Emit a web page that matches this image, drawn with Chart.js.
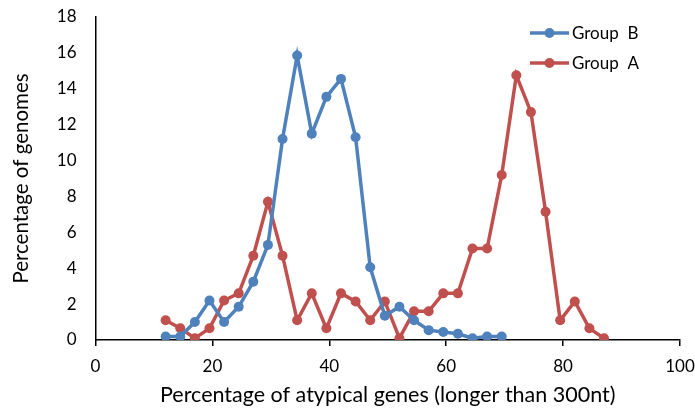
<!DOCTYPE html>
<html>
<head>
<meta charset="utf-8">
<script src="https://cdn.jsdelivr.net/npm/chart.js@4.4.1/dist/chart.umd.min.js"></script>
<style>
  html, body { margin: 0; padding: 0; background: #fff; }
  #wrap { width: 695px; height: 408px; }
</style>
</head>
<body>
<div id="wrap"><canvas id="chart"></canvas></div>
<script>
// x positions (percentage of atypical genes), 2.5 apart
const groupBX = [12, 14.5, 17, 19.5, 22, 24.5, 27, 29.5, 32, 34.5, 37, 39.5, 42, 44.5,
  47, 49.5, 52, 54.5, 57, 59.5, 62, 64.5, 67, 69.5];
const groupBY = [0.2, 0.2, 1.0, 2.2, 1.0, 1.85, 3.25, 5.3, 11.2, 15.85, 11.5, 13.55, 14.55, 11.3,
  4.05, 1.35, 1.85, 1.1, 0.55, 0.45, 0.35, 0.1, 0.2, 0.2];

const groupAX = [12, 14.5, 17, 19.5, 22, 24.5, 27, 29.5, 32, 34.5, 37, 39.5, 42, 44.5,
  47, 49.5, 52, 54.5, 57, 59.5, 62, 64.5, 67, 69.5, 72, 74.5, 77, 79.5, 82, 84.5, 87];
const groupAY = [1.1, 0.65, 0.1, 0.65, 2.2, 2.6, 4.7, 7.7, 4.7, 1.1, 2.6, 0.65, 2.6, 2.15,
  1.1, 2.15, 0.1, 1.6, 1.6, 2.6, 2.6, 5.1, 5.1, 9.2, 14.75, 12.7, 7.15, 1.1, 2.15, 0.65, 0.1];

const xTicks = [0, 20, 40, 60, 80, 100];
const yTicks = [0, 2, 4, 6, 8, 10, 12, 14, 16, 18];

const blue = '#4F81BD';
const red = '#C0504D';
const fontFamily = 'Lato, "Open Sans", sans-serif';

const toPoints = (xs, ys) => xs.map((x, i) => ({x: x, y: ys[i]}));

// legend drawn like the Excel one: short line with a dot, then the label
const lineLegend = {
  id: 'lineLegend',
  afterDraw(chart) {
    const ctx = chart.ctx;
    const rows = [
      {label: 'Group  B', color: blue, y: 33},
      {label: 'Group  A', color: red, y: 63}
    ];
    ctx.save();
    ctx.font = '17px ' + fontFamily;
    ctx.textBaseline = 'middle';
    rows.forEach(r => {
      ctx.strokeStyle = r.color;
      ctx.lineWidth = 3.5;
      ctx.beginPath();
      ctx.moveTo(530, r.y);
      ctx.lineTo(569, r.y);
      ctx.stroke();
      ctx.fillStyle = r.color;
      ctx.beginPath();
      ctx.arc(549.5, r.y, 5, 0, Math.PI * 2);
      ctx.fill();
      ctx.fillStyle = '#000';
      ctx.fillText(r.label, 572, r.y + 1);
    });
    ctx.restore();
  }
};

new Chart(document.getElementById('chart'), {
  type: 'line',
  data: {
    datasets: [
      {
        label: 'Group B',
        data: toPoints(groupBX, groupBY),
        borderColor: blue,
        backgroundColor: blue,
        borderWidth: 3.5,
        pointRadius: 5,
        pointBorderWidth: 0,
        tension: 0
      },
      {
        label: 'Group A',
        data: toPoints(groupAX, groupAY),
        borderColor: red,
        backgroundColor: red,
        borderWidth: 3.5,
        pointRadius: 5,
        pointBorderWidth: 0,
        tension: 0
      }
    ]
  },
  options: {
    responsive: true,
    maintainAspectRatio: false,
    animation: false,
    layout: { padding: { top: 17, right: 15, left: 0, bottom: 0 } },
    plugins: {
      legend: { display: false },
      tooltip: { enabled: false }
    },
    scales: {
      x: {
        type: 'linear',
        min: 0,
        max: 100,
        afterBuildTicks: (scale) => { scale.ticks = xTicks.map(v => ({value: v})); },
        afterFit: (scale) => {
          scale.height = 68;
          scale.paddingLeft = 0;
          scale.paddingRight = 0;
        },
        border: { color: '#000', width: 1.5 },
        grid: { display: true, drawOnChartArea: false, drawTicks: true, tickLength: 6, color: '#000', lineWidth: 1.5 },
        ticks: { color: '#000', font: { family: fontFamily, size: 17 }, padding: 10, maxRotation: 0 },
        title: {
          display: true,
          text: 'Percentage of atypical genes (longer than 300nt)',
          color: '#000',
          font: { family: fontFamily, size: 21.5 },
          padding: { top: 4, bottom: 0 }
        }
      },
      y: {
        type: 'linear',
        min: 0,
        max: 18,
        afterBuildTicks: (scale) => { scale.ticks = yTicks.map(v => ({value: v})); },
        afterFit: (scale) => {
          scale.width = 95.5;
          scale.paddingTop = 0;
          scale.paddingBottom = 0;
        },
        border: { color: '#000', width: 1.5 },
        grid: { display: false, drawTicks: false },
        ticks: { color: '#000', font: { family: fontFamily, size: 17 }, padding: 19 },
        title: {
          display: true,
          text: 'Percentage of genomes',
          color: '#000',
          font: { family: fontFamily, size: 20.5 },
          padding: { top: 9, bottom: 4 }
        }
      }
    }
  },
  plugins: [lineLegend]
});
</script>
</body>
</html>
